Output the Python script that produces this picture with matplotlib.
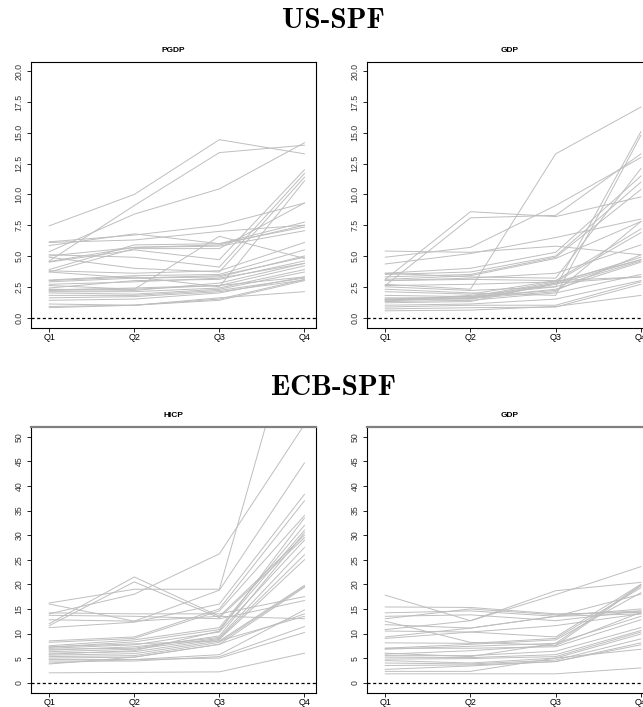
import numpy as np
import matplotlib.pyplot as plt

quarters = ["Q1", "Q2", "Q3", "Q4"]

us_pgdp = [
    [7.45, 10.0, 14.45, 13.3], [4.6, 9.1, 13.4, 14.0], [5.35, 8.4, 10.45, 14.2],
    [6.15, 6.7, 7.5, 9.3], [5.85, 6.8, 6.0, 7.35], [6.1, 6.3, 7.0, 7.5],
    [3.9, 5.9, 6.0, 7.75], [3.7, 5.6, 5.6, 9.3], [4.5, 5.5, 4.7, 12.0],
    [4.55, 5.7, 5.8, 7.05], [5.1, 4.9, 4.1, 11.7], [4.9, 4.0, 3.7, 11.4],
    [3.8, 3.6, 3.8, 6.1], [2.6, 2.3, 6.6, 4.8], [3.0, 3.3, 2.5, 11.1],
    [3.05, 3.4, 3.5, 5.5], [2.9, 3.2, 3.3, 5.0], [2.4, 3.0, 3.1, 4.6],
    [2.3, 2.2, 2.8, 4.4], [2.2, 2.3, 2.6, 4.2], [2.1, 2.1, 2.4, 3.9],
    [2.0, 1.9, 2.3, 3.7], [2.25, 2.4, 2.6, 3.3], [1.8, 1.8, 2.2, 3.2],
    [1.6, 1.7, 2.1, 3.05], [1.4, 1.5, 2.0, 3.3], [1.1, 1.0, 1.6, 2.1],
    [0.9, 1.0, 1.5, 3.1], [0.8, 1.0, 1.4, 3.0], [3.7, 3.2, 3.4, 4.9],
    [2.7, 2.9, 3.2, 4.4], [5.0, 5.7, 5.9, 7.5],
]

us_gdp = [
    [2.7, 2.3, 13.3, 17.1], [3.1, 8.6, 8.2, 9.8], [2.6, 8.1, 8.3, 13.3],
    [4.9, 5.7, 9.1, 13.0], [5.4, 5.3, 5.8, 5.1], [4.35, 5.2, 6.5, 8.0],
    [3.6, 4.0, 5.3, 11.5], [3.5, 3.7, 5.0, 11.0], [3.3, 3.5, 4.9, 10.4],
    [3.1, 3.4, 4.8, 7.8], [3.0, 3.2, 3.6, 5.9], [2.5, 2.2, 2.5, 15.1],
    [2.3, 2.0, 1.8, 14.8], [3.6, 3.3, 3.2, 12.1], [2.1, 1.9, 3.0, 7.2],
    [1.8, 1.7, 2.9, 6.9], [1.6, 1.6, 2.8, 4.9], [1.5, 1.5, 2.7, 4.7],
    [1.4, 1.8, 2.5, 4.6], [1.35, 1.6, 2.3, 4.5], [1.3, 1.4, 2.0, 3.5],
    [1.2, 1.3, 2.8, 3.3], [1.0, 1.1, 1.5, 3.0], [0.85, 1.0, 1.0, 2.9],
    [0.7, 0.8, 0.85, 2.7], [0.55, 0.6, 0.9, 1.8], [3.0, 3.1, 3.0, 3.3],
    [1.5, 1.7, 2.2, 5.1], [2.6, 2.7, 2.9, 4.7], [1.45, 1.55, 2.1, 7.8],
]

ecb_hicp = [
    [16.2, 19.0, 19.0, 80.0], [14.0, 18.0, 26.2, 52.5], [12.0, 21.5, 13.5, 30.0],
    [11.6, 20.5, 13.2, 29.5], [16.0, 12.5, 18.8, 44.7], [14.2, 14.0, 14.0, 17.5],
    [13.7, 13.5, 13.0, 16.7], [12.8, 12.5, 13.5, 13.0], [11.2, 12.3, 16.0, 38.3],
    [8.5, 9.3, 15.0, 37.0], [8.2, 9.0, 14.6, 34.0], [7.5, 8.7, 11.2, 32.0],
    [7.2, 8.3, 10.8, 31.0], [7.0, 7.7, 10.3, 29.0], [6.6, 7.3, 9.2, 27.5],
    [6.3, 6.8, 9.0, 26.0], [6.0, 6.3, 8.8, 25.0], [5.6, 5.9, 8.5, 19.8],
    [5.3, 5.5, 8.2, 19.6], [5.0, 5.2, 7.8, 19.4], [4.7, 4.7, 5.7, 14.8],
    [4.4, 4.4, 5.3, 11.4], [4.0, 4.7, 5.0, 10.2], [3.8, 5.2, 7.8, 14.0],
    [2.0, 2.1, 2.2, 6.0], [7.3, 7.9, 8.5, 13.5], [6.8, 7.0, 9.5, 30.5],
    [5.8, 6.5, 10.5, 33.5],
]

ecb_gdp = [
    [17.8, 12.6, 18.7, 20.4], [15.4, 15.3, 14.0, 14.3], [14.2, 14.6, 13.5, 15.0],
    [13.5, 13.8, 12.6, 14.6], [12.5, 8.2, 7.6, 19.7], [10.8, 12.6, 17.9, 23.6],
    [11.8, 11.1, 13.5, 18.0], [10.5, 10.3, 11.6, 14.0], [9.3, 11.1, 13.5, 14.0],
    [9.0, 10.3, 9.3, 20.0], [8.1, 8.0, 9.0, 19.3], [7.0, 7.8, 8.7, 18.3],
    [6.8, 7.4, 8.0, 13.5], [7.0, 7.0, 7.3, 12.8], [5.8, 6.5, 7.6, 14.3],
    [5.5, 5.5, 6.4, 11.2], [5.2, 5.1, 5.7, 10.6], [4.8, 4.9, 5.3, 10.3],
    [4.5, 4.0, 5.0, 9.9], [4.0, 3.8, 4.6, 8.9], [3.5, 3.6, 4.3, 8.1],
    [2.7, 3.4, 4.3, 7.7], [2.3, 2.3, 5.0, 6.8], [1.8, 1.8, 1.8, 3.0],
    [13.0, 15.0, 13.8, 14.6], [6.0, 5.3, 8.0, 19.9],
]

us_ticks = [0, 2.5, 5, 7.5, 10, 12.5, 15, 17.5, 20]
us_ticklabels = ["0.0", "2.5", "5.0", "7.5", "10.0", "12.5", "15.0", "17.5", "20.0"]
ecb_ticks = [0, 5, 10, 15, 20, 25, 30, 35, 40, 45, 50]

W, H = 643, 707
fig = plt.figure(figsize=(W / 100, H / 100), dpi=100)


def box(x0, y0, x1, y1):
    return [x0 / W, 1 - y1 / H, (x1 - x0) / W, (y1 - y0) / H]


def panel(pos, series, title, ticks, labels, ylim, gray_top=False):
    ax = fig.add_axes(pos)
    x = np.arange(1, 5)
    for s in series:
        ax.plot(x, s, color="#BEBEBE", lw=0.7)
    ax.axhline(0, color="black", lw=0.9, ls=(0, (2.5, 2)))
    ax.set_xlim(0.78, 4.13)
    ax.set_ylim(*ylim)
    ax.set_xticks(x)
    ax.set_xticklabels(quarters, fontsize=6.5, family="Liberation Sans")
    ax.set_yticks(ticks)
    ax.set_yticklabels(labels, fontsize=6.3, family="Liberation Sans",
                       rotation=90, va="center", color="#333333")
    ax.tick_params(length=3, width=0.6)
    ax.tick_params(axis="x", pad=0.5)
    ax.tick_params(axis="y", pad=2)
    for sp in ax.spines.values():
        sp.set_linewidth(0.8)
    if gray_top:
        ax.spines["top"].set_color("#808080")
        ax.spines["top"].set_linewidth(1.6)
    ax.set_title(title, fontsize=6, fontweight="bold",
                 family="Liberation Sans", pad=7)
    return ax


panel(box(30.5, 61.5, 315.5, 328), us_pgdp, "PGDP", us_ticks, us_ticklabels, (-0.85, 20.8))
panel(box(366.5, 61.5, 652, 328), us_gdp, "GDP", us_ticks, us_ticklabels, (-0.85, 20.8))
panel(box(30.5, 427, 315.5, 693), ecb_hicp, "HICP", ecb_ticks,
      [str(t) for t in ecb_ticks], (-2.1, 52.0), gray_top=True)
panel(box(366.5, 427, 652, 693), ecb_gdp, "GDP", ecb_ticks,
      [str(t) for t in ecb_ticks], (-2.1, 52.0), gray_top=True)

fig.text(333 / W, 1 - 21 / H, "US-SPF", family="cmb10", fontsize=21,
         ha="center", va="center")
fig.text(333 / W, 1 - 388 / H, "ECB-SPF", family="cmb10", fontsize=21,
         ha="center", va="center")

fig.savefig("out.png", dpi=100)
